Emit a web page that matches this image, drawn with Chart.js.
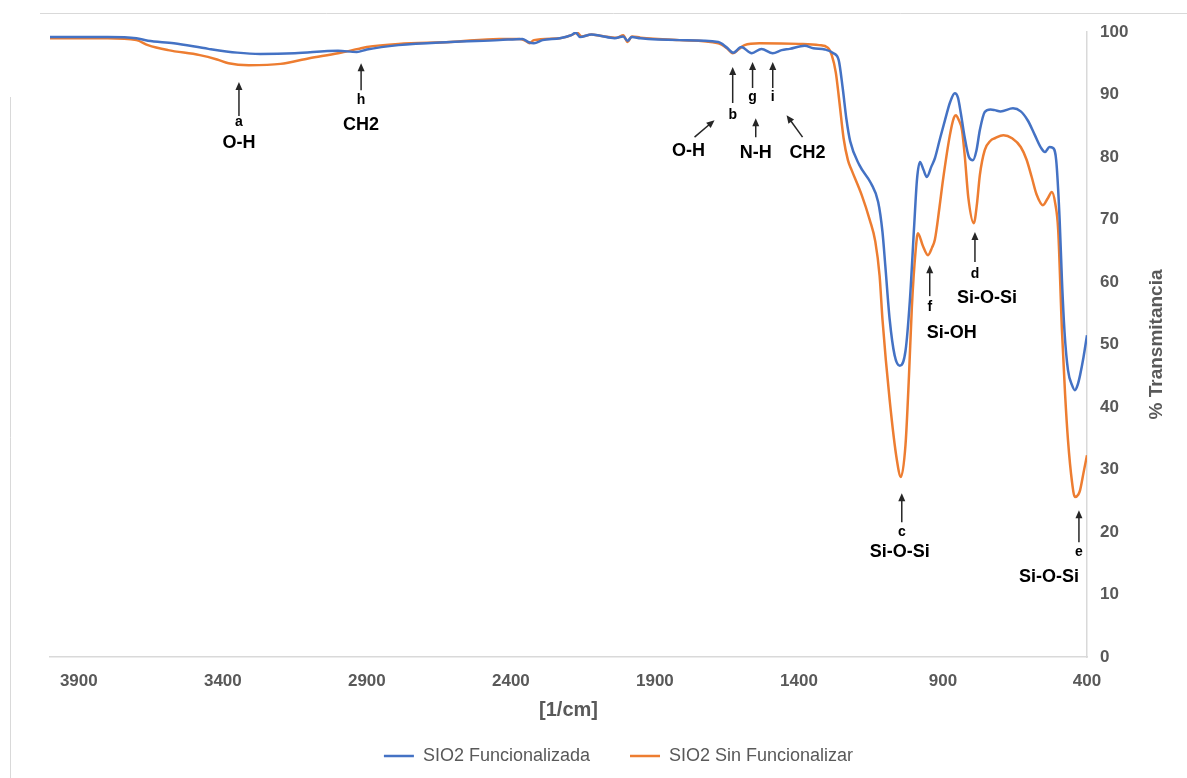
<!DOCTYPE html>
<html>
<head>
<meta charset="utf-8">
<title>FTIR SiO2</title>
<script src="https://cdn.jsdelivr.net/npm/chart.js@4.4.1/dist/chart.umd.min.js"></script>
<style>
  html, body { margin: 0; padding: 0; background: #fff; }
  canvas { display: block; }
</style>
</head>
<body>
<canvas id="ftir" width="1187" height="778"></canvas>
<script>
// wavenumbers (1/cm) and % transmittance
const funcWn = [4000, 3800, 3700, 3660, 3570, 3450, 3350, 3270, 3150, 3000, 2935, 2900, 2790, 2610, 2440, 2360, 2340, 2320, 2290, 2230, 2190, 2175, 2160, 2120, 2090, 2040, 2010, 1995, 1980, 1950, 1815, 1680, 1650, 1628, 1600, 1564, 1530, 1491, 1460, 1432, 1380, 1350, 1310, 1280, 1262, 1248, 1235, 1222, 1190, 1150, 1125, 1110, 1100, 1085, 1068, 1050, 1030, 1015, 1000, 990, 980, 968, 956, 940, 928, 910, 893, 875, 859, 848, 838, 826, 810, 796, 784, 772, 755, 735, 720, 700, 657, 630, 605, 581, 560, 546, 530, 520, 507, 495, 487, 478, 466, 452, 442, 432, 424, 412, 400];
const funcT = [99.2, 99.2, 99.0, 98.6, 98.2, 97.3, 96.7, 96.5, 96.6, 97.0, 96.8, 97.2, 97.9, 98.4, 98.7, 98.9, 98.4, 98.2, 98.7, 99.0, 99.5, 99.9, 99.2, 99.6, 99.4, 99.0, 99.3, 98.6, 99.2, 99.0, 98.7, 98.4, 97.5, 96.7, 97.6, 96.6, 97.3, 96.6, 97.1, 97.3, 97.8, 97.4, 97.2, 96.6, 95.5, 91.0, 86.0, 82.5, 78.7, 75.8, 72.8, 68.0, 62.5, 54.0, 48.3, 46.6, 49.0, 57.0, 69.0, 76.5, 79.2, 78.0, 76.8, 78.5, 79.8, 83.0, 85.9, 88.8, 90.2, 89.5, 87.0, 83.5, 80.0, 79.5, 81.0, 84.3, 87.2, 87.6, 87.5, 87.3, 87.8, 87.3, 85.8, 83.5, 81.5, 80.8, 81.6, 81.5, 79.5, 70.0, 60.3, 52.0, 45.9, 43.5, 42.7, 43.6, 45.1, 48.0, 51.5];

const sinWn = [4000, 3800, 3700, 3660, 3590, 3480, 3420, 3380, 3310, 3200, 3100, 3000, 2930, 2900, 2790, 2610, 2440, 2370, 2350, 2335, 2320, 2230, 2190, 2170, 2155, 2120, 2090, 2030, 2010, 1995, 1980, 1950, 1815, 1680, 1650, 1630, 1610, 1589, 1537, 1400, 1330, 1300, 1286, 1272, 1260, 1245, 1230, 1217, 1182, 1154, 1135, 1120, 1110, 1085, 1060, 1046, 1030, 1018, 1008, 995, 987, 970, 952, 938, 928, 912, 900, 876, 862, 855, 846, 834, 824, 812, 793, 782, 772, 755, 735, 720, 690, 660, 630, 610, 592, 575, 553, 536, 522, 510, 500, 487, 476, 466, 452, 442, 430, 424, 412, 400];
const sinT = [99.0, 99.0, 98.7, 97.9, 97.1, 96.3, 95.6, 95.0, 94.7, 94.9, 95.8, 96.6, 97.3, 97.6, 98.1, 98.4, 98.9, 98.9, 98.6, 98.2, 98.7, 99.0, 99.5, 99.9, 99.3, 99.6, 99.4, 99.1, 99.5, 98.4, 99.3, 99.1, 98.7, 98.2, 97.4, 96.6, 97.2, 97.9, 98.2, 98.1, 97.9, 97.5, 96.3, 93.5, 89.0, 83.0, 79.5, 77.9, 73.9, 69.9, 66.5, 61.0, 54.0, 41.1, 31.5, 28.8, 34.0, 45.0, 56.0, 65.0, 67.8, 65.8, 64.3, 65.5, 66.8, 72.0, 76.3, 83.5, 86.3, 86.7, 86.0, 84.3, 80.0, 73.5, 69.4, 72.5, 77.1, 81.1, 82.6, 83.0, 83.5, 83.0, 81.6, 79.6, 76.8, 74.0, 72.3, 73.4, 74.4, 72.5, 68.3, 52.3, 42.0, 34.7, 28.0, 25.6, 26.0, 26.7, 29.5, 32.3];

const seriesNames = ["SIO2 Funcionalizada", "SIO2 Sin Funcionalizar"];
const xTickValues = [400, 900, 1400, 1900, 2400, 2900, 3400, 3900];

// band labels: arrow tip at (wn, t), offsets below the tip in px
const bandArrows = [
  { wn: 3344, t: 92.0, len: 34, letter: "a", letterDy: 40, name: "O-H", nameDy: 61, nameDx: 0 },
  { wn: 2920, t: 95.0, len: 27, letter: "h", letterDy: 37, name: "CH2", nameDy: 62, nameDx: 0 },
  { wn: 1630, t: 94.4, len: 36, letter: "b", letterDy: 48 },
  { wn: 1561, t: 95.2, len: 26, letter: "g", letterDy: 35 },
  { wn: 1491, t: 95.2, len: 26, letter: "i", letterDy: 35 },
  { wn: 946, t: 62.7, len: 31, letter: "f", letterDy: 42, name: "Si-OH", nameDy: 68, nameDx: 22 },
  { wn: 789, t: 68.0, len: 30, letter: "d", letterDy: 42, name: "Si-O-Si", nameDy: 66, nameDx: 12 },
  { wn: 1043, t: 26.2, len: 29, letter: "c", letterDy: 39, name: "Si-O-Si", nameDy: 59, nameDx: -2 },
  { wn: 428, t: 23.5, len: 32, letter: "e", letterDy: 42, name: "Si-O-Si", nameDy: 67, nameDx: -30 }
];
const pointerArrows = [
  { wn: 1693, t: 85.9, tailDx: -20, tailDy: 17, name: "O-H", textDx: -26, textDy: 31 },
  { wn: 1550, t: 86.2, tailDx: 0, tailDy: 19, name: "N-H", textDx: 0, textDy: 35 },
  { wn: 1443, t: 86.7, tailDx: 16, tailDy: 22, name: "CH2", textDx: 21, textDy: 38 }
];

const FONT = "'Liberation Sans', Arial, sans-serif";
const AXIS_GREY = "#595959";

function toPoints(xs, ys) {
  return xs.map((x, i) => ({ x: x, y: ys[i] }));
}

function drawArrow(ctx, x1, y1, x2, y2) {
  const ang = Math.atan2(y2 - y1, x2 - x1);
  const head = 8;
  ctx.beginPath();
  ctx.moveTo(x1, y1);
  ctx.lineTo(x2 - Math.cos(ang) * head * 0.8, y2 - Math.sin(ang) * head * 0.8);
  ctx.stroke();
  ctx.beginPath();
  ctx.moveTo(x2, y2);
  ctx.lineTo(x2 - head * Math.cos(ang) + 3.5 * Math.sin(ang), y2 - head * Math.sin(ang) - 3.5 * Math.cos(ang));
  ctx.lineTo(x2 - head * Math.cos(ang) - 3.5 * Math.sin(ang), y2 - head * Math.sin(ang) + 3.5 * Math.cos(ang));
  ctx.closePath();
  ctx.fill();
}

const extrasPlugin = {
  id: "extras",
  beforeDraw(chart) {
    const ctx = chart.ctx;
    ctx.save();
    ctx.fillStyle = "#fff";
    ctx.fillRect(0, 0, chart.width, chart.height);
    // faint frame edges left over from the original figure
    ctx.strokeStyle = "#d9d9d9";
    ctx.lineWidth = 1;
    ctx.beginPath();
    ctx.moveTo(40, 13.5);
    ctx.lineTo(chart.width, 13.5);
    ctx.moveTo(10.5, 97);
    ctx.lineTo(10.5, chart.height);
    ctx.stroke();
    ctx.restore();
  },
  afterDatasetsDraw(chart) {
    const ctx = chart.ctx;
    const xs = chart.scales.x, ys = chart.scales.y;
    ctx.save();
    ctx.strokeStyle = "#262626";
    ctx.fillStyle = "#262626";
    ctx.lineWidth = 1.5;
    ctx.textAlign = "center";
    ctx.textBaseline = "middle";
    bandArrows.forEach(a => {
      const px = xs.getPixelForValue(a.wn);
      const py = ys.getPixelForValue(a.t);
      drawArrow(ctx, px, py + a.len, px, py);
      ctx.fillStyle = "#000";
      ctx.font = "bold 14px " + FONT;
      ctx.fillText(a.letter, px, py + a.letterDy);
      if (a.name) {
        ctx.font = "bold 18px " + FONT;
        ctx.fillText(a.name, px + a.nameDx, py + a.nameDy);
      }
      ctx.fillStyle = "#262626";
    });
    pointerArrows.forEach(a => {
      const px = xs.getPixelForValue(a.wn);
      const py = ys.getPixelForValue(a.t);
      drawArrow(ctx, px + a.tailDx, py + a.tailDy, px, py);
      ctx.fillStyle = "#000";
      ctx.font = "bold 18px " + FONT;
      ctx.fillText(a.name, px + a.textDx, py + a.textDy);
      ctx.fillStyle = "#262626";
    });
    ctx.restore();
  },
  afterDraw(chart) {
    // y title reads bottom-to-top like the original
    const ctx = chart.ctx;
    const area = chart.chartArea;
    ctx.save();
    ctx.translate(1157, (area.top + area.bottom) / 2);
    ctx.rotate(-Math.PI / 2);
    ctx.fillStyle = AXIS_GREY;
    ctx.font = "bold 19px " + FONT;
    ctx.textAlign = "center";
    ctx.textBaseline = "middle";
    ctx.fillText("% Transmitancia", 0, 0);
    ctx.restore();
  }
};

const ctx = document.getElementById("ftir").getContext("2d");
new Chart(ctx, {
  type: "scatter",
  data: {
    datasets: [
      {
        label: seriesNames[0],
        data: toPoints(funcWn, funcT),
        showLine: true,
        borderColor: "#4472C4",
        backgroundColor: "#4472C4",
        borderWidth: 2.5,
        pointRadius: 0,
        cubicInterpolationMode: "monotone"
      },
      {
        label: seriesNames[1],
        data: toPoints(sinWn, sinT),
        showLine: true,
        borderColor: "#ED7D31",
        backgroundColor: "#ED7D31",
        borderWidth: 2.5,
        pointRadius: 0,
        cubicInterpolationMode: "monotone"
      }
    ]
  },
  options: {
    responsive: false,
    devicePixelRatio: 1,
    animation: false,
    layout: { padding: { top: 32, left: 50, right: 0, bottom: 3 } },
    plugins: {
      tooltip: { enabled: false },
      legend: {
        position: "bottom",
        labels: {
          usePointStyle: true,
          pointStyle: "line",
          pointStyleWidth: 30,
          padding: 40,
          color: AXIS_GREY,
          font: { family: FONT, size: 18 }
        }
      }
    },
    scales: {
      x: {
        type: "linear",
        reverse: true,
        min: 400,
        max: 4000,
        grid: { display: false, drawTicks: false },
        border: { display: true, color: "#d9d9d9", width: 1.5 },
        afterBuildTicks: scale => { scale.ticks = xTickValues.map(v => ({ value: v })); },
        afterFit: scale => { scale.height = 50; },
        ticks: {
          padding: 14,
          maxRotation: 0,
          color: AXIS_GREY,
          font: { family: FONT, size: 17, weight: "bold" },
          callback: v => String(v)
        },
        title: {
          display: true,
          text: "[1/cm]",
          color: AXIS_GREY,
          font: { family: FONT, size: 20, weight: "bold", lineHeight: 1 },
          padding: { top: 0, bottom: -13 }
        }
      },
      y: {
        position: "right",
        min: 0,
        max: 100,
        grid: { display: false, drawTicks: false },
        border: { display: true, color: "#d9d9d9", width: 1.5 },
        afterFit: scale => { scale.width = 100; },
        ticks: {
          stepSize: 10,
          padding: 13,
          color: AXIS_GREY,
          font: { family: FONT, size: 17, weight: "bold" }
        }
      }
    }
  },
  plugins: [extrasPlugin]
});
</script>
</body>
</html>
